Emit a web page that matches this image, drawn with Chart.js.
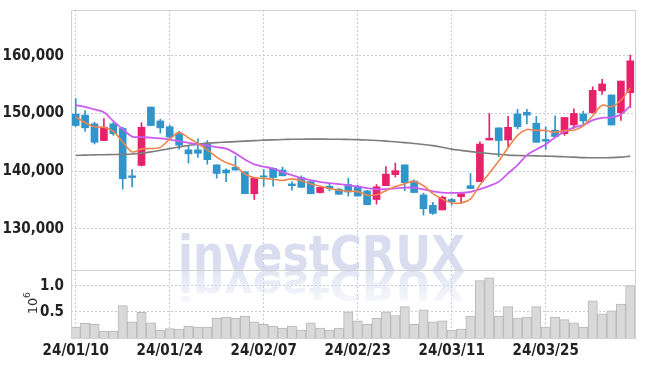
<!DOCTYPE html>
<html>
<head>
<meta charset="utf-8">
<script src="https://cdn.jsdelivr.net/npm/chart.js@4/dist/chart.umd.min.js"></script>
<style>
  html, body { margin: 0; padding: 0; background: #fff; }
  #wrap { width: 645px; height: 366px; position: relative; }
</style>
</head>
<body>
<div id="wrap"><canvas id="candle"></canvas></div>
<script>
// trading days
var dates = ['24/01/10','24/01/11','24/01/12','24/01/15','24/01/16','24/01/17','24/01/18','24/01/19','24/01/22','24/01/23',
             '24/01/24','24/01/25','24/01/26','24/01/29','24/01/30','24/01/31','24/02/01','24/02/02','24/02/05','24/02/06',
             '24/02/07','24/02/08','24/02/13','24/02/14','24/02/15','24/02/16','24/02/19','24/02/20','24/02/21','24/02/22',
             '24/02/23','24/02/26','24/02/27','24/02/28','24/02/29','24/03/04','24/03/05','24/03/06','24/03/07','24/03/08',
             '24/03/11','24/03/12','24/03/13','24/03/14','24/03/15','24/03/18','24/03/19','24/03/20','24/03/21','24/03/22',
             '24/03/25','24/03/26','24/03/27','24/03/28','24/03/29','24/04/01','24/04/02','24/04/03','24/04/04','24/04/05'];

var opens  = [149900,149700,148200,145300,148200,147400,139200,141000,151100,148700,
              147700,146600,143700,143700,144900,141100,140200,140700,139900,136100,
              139200,140500,140200,137800,138900,138200,136300,137400,136900,137700,
              137400,136600,135100,137500,139400,141100,138300,135900,134100,133300,
              135100,135600,137500,138200,145400,147500,145400,149900,150200,148300,
              145500,147100,146500,148000,149900,150100,153900,153200,150100,153600];
var highs  = [152600,150500,148500,149100,148400,147600,140300,148400,151100,149000,
              148000,146900,144400,145600,145300,141100,140400,142600,139900,138900,
              140300,140600,140700,138200,139200,138200,137300,137900,137000,138800,
              137600,136700,137700,140800,141400,141100,138500,136200,134600,135700,
              135300,136400,139600,145100,150000,147500,149500,150700,150700,149500,
              147700,149600,149300,150800,150400,154600,155900,153200,155600,160100];
var lows   = [147700,146900,144700,145300,146200,136900,137300,140900,147900,146600,
              145700,143800,141400,142400,141200,138800,138200,140200,136100,135100,
              137400,137400,139200,136700,137200,136100,136200,136600,136000,135700,
              135700,134200,134300,137500,139000,136600,136300,132400,132500,133300,
              134100,134400,137000,138200,145400,142500,144200,147300,148200,145000,
              143800,145900,146200,147400,148200,150100,153300,148000,148800,151000];
var closes = [147900,147500,145000,147600,146500,138700,138900,147600,147900,147500,
              145900,144500,143000,143100,142000,139600,139700,140200,136100,138800,
              139000,138900,139200,137500,137200,136100,137200,137000,136000,136400,
              135700,134200,137300,139500,140100,138000,136300,133500,132700,135500,
              134700,136100,137000,144700,145700,145300,147600,147700,149700,145000,
              145200,146000,149300,150000,148700,154000,155100,148000,155600,159100];

// moving averages as drawn
var ma5   = [149400,148400,147700,147600,146900,145060,143340,143860,143920,144120,
             145560,146680,145760,144800,143700,142440,141480,140920,139520,138880,
             138760,138600,138400,138680,138360,137780,137440,137000,136700,136540,
             136460,135860,135920,136620,137360,137820,138240,137480,136120,135200,
             134540,134500,135200,137600,139640,141760,144060,146200,147200,147060,
             147040,146720,147040,147100,147840,149600,151420,151160,152280,154360];
var ma20  = [151440,151140,150690,150220,148670,147280,145990,145900,145810,145670,
             145470,145200,144910,144690,144430,144170,143910,143080,142040,141180,
             140800,140450,139840,139330,138810,138460,138120,137940,137770,137600,
             137340,137080,136850,136900,137030,137160,137160,136850,136510,136300,
             136260,136260,136440,136900,137470,138170,139620,141060,142790,143770,
             144640,145850,146820,147580,147980,148840,149240,149310,149830,151310];
var ma120 = [142730,142790,142820,142860,142890,142920,142990,143130,143340,143620,
             143910,144200,144460,144690,144830,144950,145030,145120,145210,145290,
             145380,145430,145480,145520,145540,145550,145550,145540,145520,145500,
             145470,145400,145310,145210,145090,144950,144790,144620,144430,144140,
             143820,143600,143390,143220,143060,142920,142790,142730,142680,142650,
             142610,142560,142490,142440,142350,142340,142340,142350,142440,142610];

// volume, millions
var volumes = [0.21,0.28,0.26,0.13,0.13,0.62,0.31,0.49,0.29,0.15,
               0.18,0.17,0.23,0.21,0.21,0.38,0.40,0.38,0.42,0.31,
               0.26,0.23,0.19,0.23,0.15,0.29,0.19,0.15,0.19,0.50,
               0.33,0.26,0.38,0.50,0.43,0.60,0.26,0.54,0.31,0.33,
               0.15,0.17,0.42,1.10,1.15,0.42,0.60,0.38,0.40,0.60,
               0.21,0.40,0.35,0.29,0.21,0.71,0.46,0.52,0.65,1.00];

var priceTicks = [130000, 140000, 150000, 160000];
var volTicks = [0.5, 1.0];

var UP = '#e8216b', DOWN = '#2f95cb';
var candleColor = closes.map(function (c, i) { return c >= opens[i] ? UP : DOWN; });
var gridColor = '#c9cce0';
var tickFont = { family: '"Liberation Sans Narrow", "DejaVu Sans Condensed", sans-serif', size: 15, weight: 'bold' };

function fitLeft(s) {
  s.width = 71;
  s.paddingTop = 0;
  s.paddingBottom = 0;
}

// watermark with reflection, under the bars
var watermark = {
  id: 'watermark',
  beforeDatasetsDraw: function (chart) {
    var ctx = chart.ctx;
    var base = chart.scales.y.bottom + 1;
    var text = 'investCRUX';
    ctx.save();
    ctx.font = 'bold 50px "DejaVu Sans", sans-serif';
    var w = ctx.measureText(text).width;
    ctx.translate(178, base);
    ctx.scale(287 / w, 1);
    ctx.fillStyle = 'rgba(204,209,233,0.75)';
    ctx.fillText(text, 0, 0);
    ctx.scale(1, -0.8);
    var g = ctx.createLinearGradient(0, 0, 0, -48);
    g.addColorStop(0, 'rgba(214,218,238,0.7)');
    g.addColorStop(1, 'rgba(214,218,238,0.1)');
    ctx.fillStyle = g;
    ctx.fillText(text, 0, 0);
    ctx.restore();
  }
};

// panel frames and the 10^6 label
var frames = {
  id: 'frames',
  afterDraw: function (chart) {
    var ctx = chart.ctx, a = chart.chartArea;
    var y = chart.scales.y, yv = chart.scales.yv;
    ctx.save();
    ctx.strokeStyle = '#d2d2d2';
    ctx.lineWidth = 1;
    ctx.strokeRect(Math.round(a.left) + 0.5, Math.round(y.top) + 0.5, Math.round(a.right - a.left), Math.round(y.bottom - y.top));
    ctx.strokeRect(Math.round(a.left) + 0.5, Math.round(yv.top) + 0.5, Math.round(a.right - a.left), Math.round(yv.bottom - yv.top));
    ctx.fillStyle = '#333';
    ctx.translate(37, (yv.top + yv.bottom) / 2 + 2);
    ctx.rotate(-Math.PI / 2);
    ctx.font = '13px "DejaVu Sans", sans-serif';
    ctx.textAlign = 'center';
    ctx.fillText('10', 0, 0);
    ctx.font = '9px "DejaVu Sans", sans-serif';
    ctx.textAlign = 'left';
    ctx.fillText('6', 8, -7);
    ctx.restore();
  }
};

var config = {
  data: {
    labels: dates,
    datasets: [
      { type: 'line', data: ma5, borderColor: '#f0844c', borderWidth: 1.6, pointRadius: 0, tension: 0.3, yAxisID: 'y', order: 0 },
      { type: 'line', data: ma20, borderColor: '#cc5cf0', borderWidth: 1.8, pointRadius: 0, tension: 0.3, yAxisID: 'y', order: 0 },
      { type: 'line', data: ma120, borderColor: '#7d7d7d', borderWidth: 1.6, pointRadius: 0, tension: 0.3, yAxisID: 'y', order: 0 },
      { type: 'bar', data: opens.map(function (o, i) { return [o, closes[i]]; }),
        backgroundColor: candleColor, borderColor: candleColor, borderWidth: 0, borderSkipped: false,
        barThickness: 7, grouped: false, yAxisID: 'y', order: 1 },
      { type: 'bar', data: lows.map(function (l, i) { return [l, highs[i]]; }),
        backgroundColor: candleColor, barThickness: 1, grouped: false, yAxisID: 'y', order: 2 },
      { type: 'bar', data: volumes, backgroundColor: '#d9d9d9', borderColor: '#b7b7b7', borderWidth: 1,
        barPercentage: 1, categoryPercentage: 1, grouped: false, yAxisID: 'yv', order: 3 }
    ]
  },
  options: {
    responsive: true,
    maintainAspectRatio: false,
    animation: false,
    layout: { padding: { top: 10, right: 10, left: 0, bottom: 0 } },
    plugins: { legend: { display: false }, tooltip: { enabled: false } },
    scales: {
      x: {
        type: 'category',
        offset: true,
        grid: { offset: false, color: gridColor, drawTicks: false },
        border: { display: false, dash: [2, 2] },
        ticks: {
          autoSkip: false, maxRotation: 0, padding: 4, color: '#222', font: tickFont,
          callback: function (v, i) { return i % 10 === 0 ? dates[i] : null; }
        },
        afterFit: function (s) { s.height = 28; s.paddingLeft = 0; s.paddingRight = 0; }
      },
      yv: {
        type: 'linear', position: 'left', stack: 'panels', stackWeight: 68,
        min: 0, max: 1.3,
        afterBuildTicks: function (s) { s.ticks = volTicks.map(function (v) { return { value: v }; }); },
        grid: { color: gridColor, drawTicks: false },
        border: { display: false, dash: [2, 2] },
        ticks: { padding: 7, color: '#222', font: tickFont,
                 callback: function (v) { return v.toFixed(1); } },
        afterFit: fitLeft
      },
      y: {
        type: 'linear', position: 'left', stack: 'panels', stackWeight: 260,
        min: 122900, max: 167900,
        afterBuildTicks: function (s) { s.ticks = priceTicks.map(function (v) { return { value: v }; }); },
        grid: { color: gridColor, drawTicks: false },
        border: { display: false, dash: [2, 2] },
        ticks: { padding: 7, color: '#222', font: tickFont,
                 callback: function (v) { return v.toLocaleString('en-US'); } },
        afterFit: fitLeft
      }
    }
  },
  plugins: [watermark, frames]
};

var ctx = document.getElementById('candle').getContext('2d');
new Chart(ctx, config);
</script>
</body>
</html>
